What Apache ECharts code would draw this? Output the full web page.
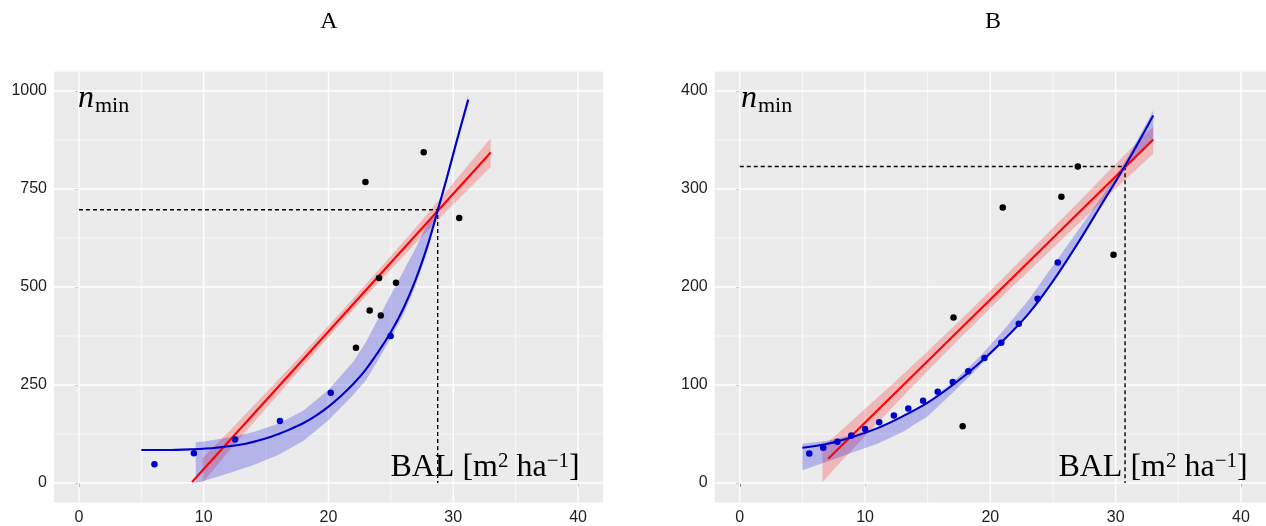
<!DOCTYPE html>
<html><head><meta charset="utf-8">
<script src="https://cdn.jsdelivr.net/npm/echarts@6/dist/echarts.min.js"></script>
<style>html,body{margin:0;padding:0;background:#fff}#c{width:1266px;height:526px}</style>
</head><body><div id="c"></div>
<script>
// ---------- tick labels ----------
const xTicks = [0, 10, 20, 30, 40];
const xMinor = [5, 15, 25, 35];
const yTicksA = [0, 250, 500, 750, 1000];
const yMinorA = [125, 375, 625, 875];
const yTicksB = [0, 100, 200, 300, 400];
const yMinorB = [50, 150, 250, 350];
const panelTitles = ['A', 'B'];

// ---------- panel A ----------
const aBlueX = [6.05, 9.21, 12.51, 16.11, 20.18, 24.98];
const aBlueY = [48, 76, 111, 158, 230, 375];
const aBlackX = [22.2, 22.96, 23.3, 24.05, 24.19, 25.41, 27.63, 30.48];
const aBlackY = [345, 768, 440, 523, 427, 511, 844, 676];
const aCurveX = [5, 7, 9, 11, 13, 15, 16, 17, 18, 19, 20, 21, 22, 23, 24, 25, 26, 27, 28, 28.75, 29.5, 30.3, 31.2];
const aCurveY = [84, 84, 86, 90, 98, 114, 125, 138, 153, 172, 195, 222, 253, 290, 335, 385, 445, 520, 612, 695, 780, 875, 978];
const aBlueBandX = [9.36, 10, 12, 14, 16, 18, 20, 22, 23, 24, 25, 26, 27, 28, 28.75, 29.5, 30.3, 31.2];
const aBlueBandUp = [104, 106, 116, 130, 152, 185, 238, 310, 360, 420, 480, 540, 600, 665, 705, 790, 885, 990];
const aBlueBandLo = [0, 5, 25, 46, 72, 108, 160, 225, 262, 315, 370, 430, 505, 600, 688, 770, 865, 968];
const aRedX = [9.06, 33];
const aRedY = [2.5, 843];
const aRedBandX = [9.9, 12, 15, 18, 21, 24, 27, 30, 33];
const aRedBandUp = [64, 131, 231, 332, 436, 543, 652, 765, 880];
const aRedBandLo = [0, 81, 191, 300, 408, 511, 612, 711, 806];
const aDashX = [0, 28.75, 28.75];
const aDashY = [697, 697, 0];

// ---------- panel B ----------
const bBlueX = [5.55, 6.66, 7.79, 8.9, 10.0, 11.13, 12.3, 13.45, 14.63, 15.8, 17.0, 18.24, 19.53, 20.87, 22.27, 23.77, 25.38];
const bBlueY = [30, 36, 42, 48.5, 55, 62, 69, 76, 84, 93, 103, 114, 127.6, 143, 162.5, 188, 225];
const bBlackX = [17.06, 17.79, 20.99, 25.67, 26.98, 29.83];
const bBlackY = [169, 58, 281, 292, 323, 233];
const bCurveX = [5, 7, 9, 11, 13, 15, 17, 19, 21, 23, 25, 27, 29, 31, 33];
const bCurveY = [36, 40, 47, 56, 68, 82, 100, 121, 145, 172, 206, 245, 287, 329, 375];
const bBlueBandX = [5, 7, 9, 11, 13, 15, 17, 19, 21, 23, 25, 27, 29, 31, 33];
const bBlueBandUp = [40, 43, 49, 57, 68, 83, 103, 127, 155, 186, 222, 258, 294, 333, 380];
const bBlueBandLo = [13, 22, 31, 40, 52, 68, 92, 117, 144, 173, 207, 245, 285, 326, 350];
const bRedX = [7.06, 33];
const bRedY = [24.8, 350.5];
const bRedBandX = [6.6, 8, 10, 12, 15, 18, 21, 24, 27, 30, 33];
const bRedBandUp = [37, 52.6, 75.7, 98.8, 134.5, 171.2, 208.9, 247.5, 286.2, 325.4, 364];
const bRedBandLo = [1, 20.6, 47.7, 74.8, 114.5, 153.2, 190.9, 227.5, 264.2, 300.4, 336];
const bDashX = [0, 30.75, 30.75];
const bDashY = [323, 323, 0];

// ---------- helpers ----------
const SANS = 'Liberation Sans';
const SERIF = 'Liberation Serif';
const BLUE = '#0000CD';
const RED = '#FF0000';
const TXT = '#1f1f1f';
const zip = (xs, ys) => xs.map((x, i) => [x, ys[i]]);

function gridLines(gi, xMaj, xMin, yMaj, yMin) {
  return {
    type: 'custom', xAxisIndex: gi, yAxisIndex: gi, z: 1, silent: true, clip: false,
    data: [[xMaj[0], yMaj[0]]],
    renderItem: function (params, api) {
      const cs = params.coordSys; const kids = [];
      const vline = (v, w) => { const px = api.coord([v, yMaj[0]])[0];
        kids.push({ type: 'line', shape: { x1: px, y1: cs.y, x2: px, y2: cs.y + cs.height }, style: { stroke: '#fff', lineWidth: w } }); };
      const hline = (v, w) => { const py = api.coord([xMaj[0], v])[1];
        kids.push({ type: 'line', shape: { x1: cs.x, y1: py, x2: cs.x + cs.width, y2: py }, style: { stroke: '#fff', lineWidth: w } }); };
      xMin.forEach(v => vline(v, 0.7)); yMin.forEach(v => hline(v, 0.7));
      xMaj.forEach(v => vline(v, 1.4)); yMaj.forEach(v => hline(v, 1.4));
      return { type: 'group', children: kids };
    }
  };
}
function ribbon(gi, xs, up, lo, color) {
  return {
    type: 'custom', xAxisIndex: gi, yAxisIndex: gi, z: 2, silent: true, clip: true,
    data: [[xs[0], lo[0]]],
    renderItem: function (params, api) {
      const pts = [];
      for (let i = 0; i < xs.length; i++) pts.push(api.coord([xs[i], up[i]]));
      for (let i = xs.length - 1; i >= 0; i--) pts.push(api.coord([xs[i], lo[i]]));
      return { type: 'polygon', shape: { points: pts }, style: { fill: color } };
    }
  };
}
function line(gi, xs, ys, color, smooth) {
  return { type: 'line', xAxisIndex: gi, yAxisIndex: gi, z: 4, data: zip(xs, ys), symbol: 'none',
    smooth: smooth ? 0.35 : false, lineStyle: { color: color, width: 2.1 }, silent: true };
}
function dash(gi, xs, ys) {
  return { type: 'line', xAxisIndex: gi, yAxisIndex: gi, z: 3, data: zip(xs, ys), symbol: 'none',
    lineStyle: { color: '#000', width: 1.4, type: [4, 3] }, silent: true };
}
function pts(gi, xs, ys, color) {
  return { type: 'scatter', xAxisIndex: gi, yAxisIndex: gi, z: 5, data: zip(xs, ys), symbolSize: 6.5,
    itemStyle: { color: color, opacity: 1 }, silent: true };
}
const fmt = v => String(v);
function xAx(gi) {
  return { gridIndex: gi, type: 'value', min: -2, max: 42,
    axisLine: { show: false },
    axisTick: { show: true, length: 4, lineStyle: { color: '#333', width: 1 }, customValues: xTicks },
    axisLabel: { customValues: xTicks, formatter: fmt, color: TXT, fontSize: 16, fontFamily: SANS, margin: 7 },
    splitLine: { show: false } };
}
function yAx(gi, mn, mx, ticks) {
  return { gridIndex: gi, type: 'value', min: mn, max: mx,
    axisLine: { show: false },
    axisTick: { show: true, length: 4, lineStyle: { color: '#333', width: 1 }, customValues: ticks },
    axisLabel: { customValues: ticks, formatter: fmt, color: TXT, fontSize: 16, fontFamily: SANS, margin: 7 },
    splitLine: { show: false } };
}
function nLabel(x) {
  return { type: 'text', x: x, y: 115, z: 10, silent: true,
    style: { text: 'n', fontFamily: SERIF, fontStyle: 'italic', fontSize: 32, fill: '#000', align: 'left', verticalAlign: 'bottom' } };
}
function minLabel(x) {
  return { type: 'text', x: x, y: 117.5, z: 10, silent: true,
    style: { text: 'min', fontFamily: SERIF, fontSize: 22, fill: '#000', align: 'left', verticalAlign: 'bottom' } };
}
function bal(x) {
  return { type: 'text', x: x, y: 485, z: 10, silent: true,
    style: { text: '{t|BAL [m}{s|2}{t| ha}{s|\u22121}{t|]}', align: 'center', verticalAlign: 'bottom',
      rich: { t: { fontFamily: SERIF, fontSize: 32, lineHeight: 34, fill: '#000' },
              s: { fontFamily: SERIF, fontSize: 21, lineHeight: 22, verticalAlign: 'top', fill: '#000' } } } };
}
function ttl(x, t) {
  return { type: 'text', x: x, y: 21.5, z: 10, silent: true,
    style: { text: t, fontFamily: SERIF, fontSize: 24, fill: '#000', align: 'center', verticalAlign: 'middle' } };
}

const chart = echarts.init(document.getElementById('c'), null, { renderer: 'canvas' });
chart.setOption({
  animation: false,
  backgroundColor: '#fff',
  grid: [
    { left: 54, top: 71.4, width: 549, height: 431.2, show: true, backgroundColor: '#EBEBEB', borderWidth: 0 },
    { left: 714.7, top: 71.4, width: 557, height: 431.2, show: true, backgroundColor: '#EBEBEB', borderWidth: 0 }
  ],
  xAxis: [xAx(0), xAx(1)],
  yAxis: [yAx(0, -50, 1050, yTicksA), yAx(1, -20, 420, yTicksB)],
  graphic: [
    ttl(329, panelTitles[0]), ttl(993, panelTitles[1]),
    nLabel(78), minLabel(95), nLabel(741), minLabel(758),
    bal(485), bal(1153)
  ],
  series: [
    gridLines(0, xTicks, xMinor, yTicksA, yMinorA),
    gridLines(1, xTicks, xMinor, yTicksB, yMinorB),
    ribbon(0, aRedBandX, aRedBandUp, aRedBandLo, 'rgba(255,0,0,0.22)'),
    ribbon(0, aBlueBandX, aBlueBandUp, aBlueBandLo, 'rgba(0,0,230,0.23)'),
    ribbon(1, bRedBandX, bRedBandUp, bRedBandLo, 'rgba(255,0,0,0.22)'),
    ribbon(1, bBlueBandX, bBlueBandUp, bBlueBandLo, 'rgba(0,0,230,0.23)'),
    dash(0, aDashX, aDashY), dash(1, bDashX, bDashY),
    line(0, aRedX, aRedY, RED, false), line(0, aCurveX, aCurveY, BLUE, true),
    line(1, bRedX, bRedY, RED, false), line(1, bCurveX, bCurveY, BLUE, true),
    pts(0, aBlackX, aBlackY, '#000'), pts(0, aBlueX, aBlueY, BLUE),
    pts(1, bBlackX, bBlackY, '#000'), pts(1, bBlueX, bBlueY, BLUE)
  ]
});
</script></body></html>
